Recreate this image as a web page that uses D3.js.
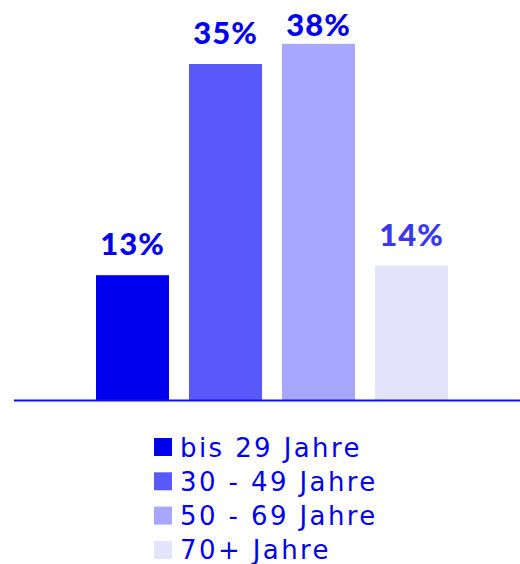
<!DOCTYPE html>
<html>
<head>
<meta charset="utf-8">
<script src="https://cdn.jsdelivr.net/npm/d3@7"></script>
<style>
  html, body { margin: 0; padding: 0; background: #fff; }
  svg { display: block; }
  .val { font-family: Lato, "Noto Sans", sans-serif; }
  .leg text { font-family: "DejaVu Sans", "Noto Sans", sans-serif; }
</style>
</head>
<body>
<div id="chart-area"></div>
<script>
// Altersgruppen
const categories = ["bis 29 Jahre", "30 - 49 Jahre", "50 - 69 Jahre", "70+ Jahre"];
// Balkenhoehen (in %)
const values = [13.0, 35.0, 37.1, 14.0];
// Beschriftungen ueber den Balken
const valueLabels = ["13%", "35%", "38%", "14%"];
const colors = ["#0000ee", "#5959fa", "#a7a7fe", "#e4e4fc"];
const labelColors = ["#0000ee", "#0000ee", "#0000ee", "#3838f0"];

const width = 520, height = 564;
const baseY = 400;

const svg = d3.select("#chart-area").append("svg")
    .attr("width", width)
    .attr("height", height);

const x = d3.scaleBand()
    .domain(categories)
    .range([96, 448])
    .paddingInner(0.215)
    .paddingOuter(0);

// 9.6 px pro Prozentpunkt
const y = d3.scaleLinear()
    .domain([0, 35])
    .range([baseY, 64]);

svg.selectAll("rect.bar")
    .data(values)
    .enter()
    .append("rect")
    .attr("class", "bar")
    .attr("x", (d, i) => x(categories[i]))
    .attr("y", d => y(d))
    .attr("width", x.bandwidth())
    .attr("height", d => baseY - y(d))
    .attr("fill", (d, i) => colors[i]);

// Wertbeschriftungen
svg.selectAll("text.val")
    .data(values)
    .enter()
    .append("text")
    .attr("class", "val")
    .attr("x", (d, i) => x(categories[i]) + x.bandwidth() / 2)
    .attr("y", d => Math.max(y(d) - 20, 36))
    .attr("text-anchor", "middle")
    .attr("font-size", 31)
    .attr("font-weight", 900)
    .attr("letter-spacing", 1)
    .attr("fill", (d, i) => labelColors[i])
    .text((d, i) => valueLabels[i]);

// Grundlinie
svg.append("line")
    .attr("x1", 14)
    .attr("x2", width)
    .attr("y1", baseY + 0.5)
    .attr("y2", baseY + 0.5)
    .attr("stroke", "#1010e8")
    .attr("stroke-width", 2);

// Legende
const legend = svg.selectAll("g.leg")
    .data(categories)
    .enter()
    .append("g")
    .attr("class", "leg")
    .attr("transform", (d, i) => `translate(154, ${438 + i * 34.3})`);

legend.append("rect")
    .attr("width", 18)
    .attr("height", 18)
    .attr("fill", (d, i) => colors[i]);

legend.append("text")
    .attr("x", 26)
    .attr("y", 18.5)
    .attr("font-size", 26)
    .attr("letter-spacing", 2.4)
    .attr("fill", "#0000ee")
    .text(d => d);
</script>
</body>
</html>
